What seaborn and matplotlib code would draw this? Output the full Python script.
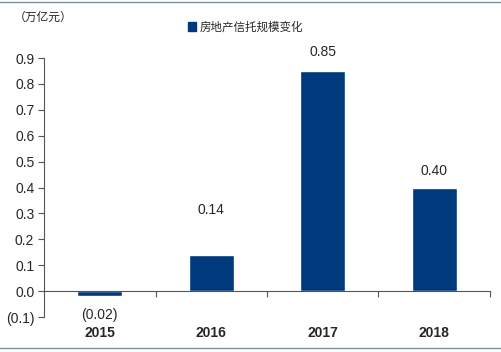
import matplotlib
matplotlib.use("Agg")
import matplotlib.pyplot as plt
import seaborn as sns
import pandas as pd
from matplotlib.ticker import FuncFormatter, FixedLocator
from matplotlib.lines import Line2D
from matplotlib.patches import Patch
import matplotlib.transforms as mtransforms

years = ["2015", "2016", "2017", "2018"]
values = [-0.02, 0.14, 0.85, 0.40]
value_labels = ["(0.02)", "0.14", "0.85", "0.40"]
series_name = "房地产信托规模变化"
unit_label = "（万亿元）"
yticks = [-0.1, 0.0, 0.1, 0.2, 0.3, 0.4, 0.5, 0.6, 0.7, 0.8, 0.9]

sns.set_style("white")
plt.rcParams['font.family'] = ['Liberation Sans', 'Noto Sans CJK SC', 'DejaVu Sans']

color = "#003A7D"
df = pd.DataFrame({"year": years, "value": values})

fig = plt.figure(figsize=(5.02, 3.52), dpi=100)
ax = fig.add_axes([44/502, (352-317)/352, (490-44)/502, (317-58)/352])

sns.barplot(data=df, x="year", y="value", color=color, width=0.4,
            saturation=1, ax=ax)

ax.set_xlim(-0.5, 3.5)
ax.set_ylim(-0.1, 0.9)
ax.set_yticks(yticks)
ax.yaxis.set_major_formatter(FuncFormatter(
    lambda v, p: f"({abs(v):.1f})" if v < -1e-9 else f"{abs(v):.1f}"))
ax.tick_params(axis='y', labelsize=10, length=4, width=0.8, color='#555555',
               direction='out', left=True, pad=3)

for s in ['top', 'right']:
    ax.spines[s].set_visible(False)
ax.spines['left'].set_color('#555555')
ax.spines['left'].set_linewidth(0.8)
ax.spines['bottom'].set_position(('data', 0))
ax.spines['bottom'].set_color('#555555')
ax.spines['bottom'].set_linewidth(0.8)

ax.xaxis.set_major_locator(FixedLocator([0.5, 1.5, 2.5, 3.5]))
ax.tick_params(axis='x', labelbottom=False, length=4, width=0.8,
               color='#555555', direction='out', bottom=True)
ax.set_xlabel("")
ax.set_ylabel("")

trans = mtransforms.blended_transform_factory(ax.transData, ax.transAxes)
for i, y in enumerate(years):
    ax.text(i, -0.062, y, transform=trans, ha='center', va='center',
            fontsize=10, fontweight='bold')

label_offsets = [0.0, 0.175, 0.072, 0.065]
for i, (v, lab) in enumerate(zip(values, value_labels)):
    if v >= 0:
        ax.text(i, v + label_offsets[i], lab, ha='center', va='center',
                fontsize=10)
    else:
        ax.text(i, -0.093, lab, ha='center', va='center', fontsize=10)

handle = Patch(facecolor=color, edgecolor=color)
fig.legend([handle], [series_name], loc='center left',
           bbox_to_anchor=(178/502, 1 - 27/352), frameon=False,
           handlelength=0.7, handleheight=0.7, handletextpad=0.3,
           prop={'family': ['Noto Sans CJK SC'], 'size': 8.3})

fig.text(14/502, 1 - 17/352, unit_label, fontsize=8.5, ha='left', va='center',
         family=['Noto Sans CJK SC'])

fig.add_artist(Line2D([0, 1], [1 - 2/352, 1 - 2/352], color='#7F8FA8',
                      linewidth=1, transform=fig.transFigure))
fig.add_artist(Line2D([0, 1], [1 - 348/352, 1 - 348/352], color='#7F8FA8',
                      linewidth=1, transform=fig.transFigure))

fig.savefig("out.png", dpi=100)
